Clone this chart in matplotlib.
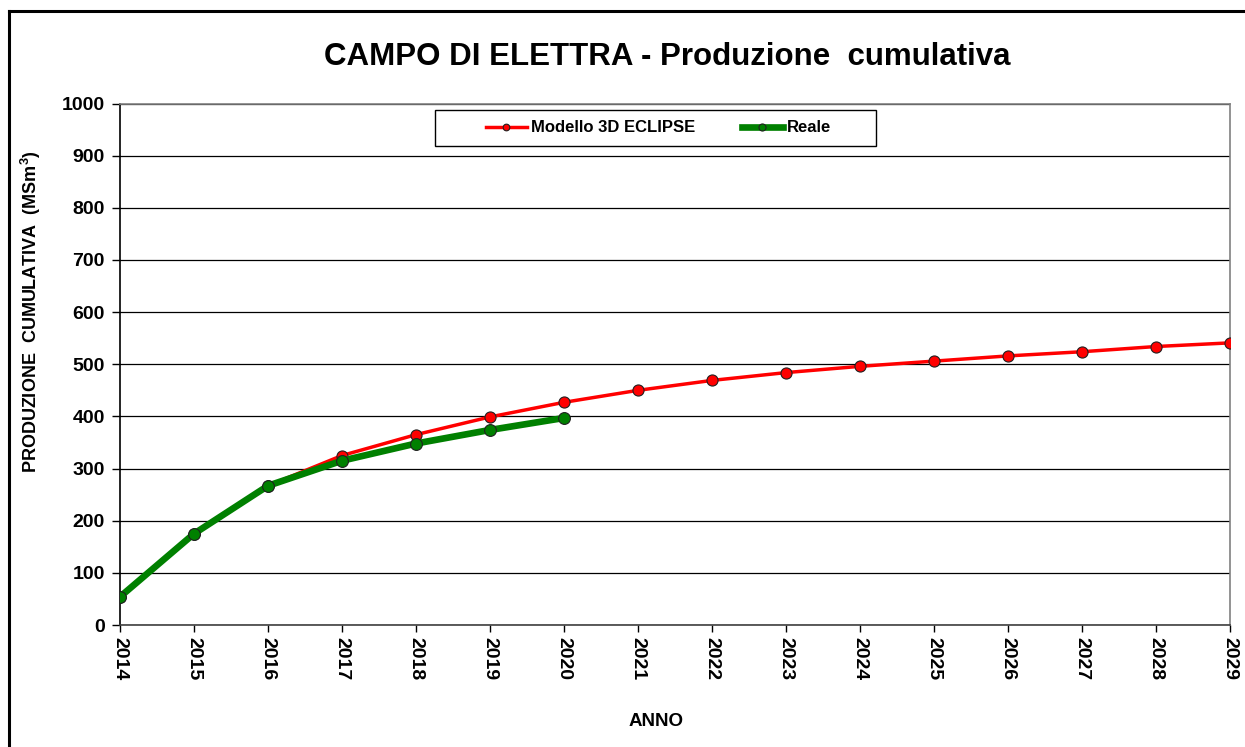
import matplotlib
matplotlib.use("Agg")
import matplotlib.pyplot as plt
from matplotlib.lines import Line2D
from matplotlib.patches import Rectangle

plt.rcParams['font.family'] = ['Liberation Sans', 'DejaVu Sans']

years = list(range(2014, 2030))
modello = [54, 175, 267, 325, 365, 399, 427, 450, 469, 484, 496, 506, 516, 524, 534, 541]
reale_years = list(range(2014, 2021))
reale = [54, 175, 267, 315, 348, 374, 397]

title = "CAMPO DI ELETTRA - Produzione  cumulativa"
ylabel = "PRODUZIONE  CUMULATIVA  (MSm$^{\\mathregular{3}}$)"
xlabel = "ANNO"
yticks = list(range(0, 1001, 100))

fig = plt.figure(figsize=(12.45, 7.47), dpi=100)
ax = fig.add_axes([120/1245, 1-625/747, (1230-120)/1245, (625-103.5)/747])

ax.plot(years, modello, color='#ff0000', lw=2.5, marker='o', ms=8,
        mfc='#ff0000', mec='#202020', mew=0.8, zorder=3, label='Modello 3D ECLIPSE')
ax.plot(reale_years, reale, color='#008000', lw=4.8, marker='o', ms=8.5,
        mfc='#008000', mec='#202020', mew=0.8, zorder=4, label='Reale')

ax.set_xlim(2014, 2029)
ax.set_ylim(0, 1000)
ax.set_yticks(yticks)
ax.set_xticks(years)
ax.set_xticklabels([str(y) for y in years], rotation=270, fontweight='bold', fontsize=14)
for lab in ax.get_yticklabels():
    lab.set_fontweight('bold')
    lab.set_fontsize(14)
ax.yaxis.grid(True, color='#000000', lw=0.9)
ax.set_axisbelow(True)
ax.spines['left'].set_color('black')
ax.spines['bottom'].set_color('#404040')
ax.spines['top'].set_color('#808080')
ax.spines['right'].set_color('#808080')
for s in ax.spines.values():
    s.set_linewidth(1.2)
ax.tick_params(axis='y', direction='out', length=6, pad=5, width=1, colors='black')
ax.tick_params(axis='x', direction='out', length=5, pad=3.5, width=1, colors='black')

ax.set_ylabel(ylabel, fontsize=13, fontweight='bold')
ax.yaxis.set_label_coords((43-120)/1110, (625-312)/521.5)
ax.set_xlabel(xlabel, fontsize=13.5, fontweight='bold')
ax.xaxis.set_label_coords((656-120)/1110, (625-713)/521.5)

fig.text(667/1245, 1-57/747, title, ha='center', va='center', fontsize=22.5, fontweight='bold')

leg = ax.legend(loc='center', bbox_to_anchor=((658.5-120)/1110, (625-128)/521.5),
                ncol=2, frameon=False,
                prop={'weight': 'bold', 'size': 12}, markerscale=0.6,
                handlelength=2.45, columnspacing=2.8, borderpad=0,
                handletextpad=0.25, borderaxespad=0)
ax.add_patch(Rectangle(((435-120)/1110, (625-146)/521.5), (876-435)/1110, 36/521.5,
                       transform=ax.transAxes, fill=True, facecolor='white',
                       edgecolor='black', lw=1.0, zorder=5))
leg.set_zorder(6)

# figure border (left and top visible)
fig.add_artist(Line2D([9/1245, 9/1245], [0, 1-11/747], color='black', lw=2.2, transform=fig.transFigure))
fig.add_artist(Line2D([9/1245, 1], [1-11/747, 1-11/747], color='black', lw=2.2, transform=fig.transFigure))

fig.savefig('out.png', dpi=100)
